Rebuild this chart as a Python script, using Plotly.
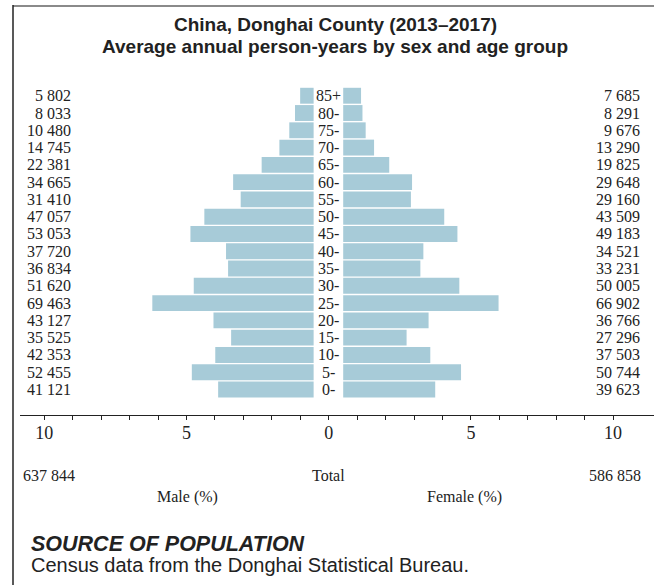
import plotly.graph_objects as go

# ---------------- data ----------------
age_groups = ["0-", "5-", "10-", "15-", "20-", "25-", "30-", "35-", "40-",
              "45-", "50-", "55-", "60-", "65-", "70-", "75-", "80-", "85+"]
male_counts = [41121, 52455, 42353, 35525, 43127, 69463, 51620, 36834, 37720,
               53053, 47057, 31410, 34665, 22381, 14745, 10480, 8033, 5802]
female_counts = [39623, 50744, 37503, 27296, 36766, 66902, 50005, 33231, 34521,
                 49183, 43509, 29160, 29648, 19825, 13290, 9676, 8291, 7685]
male_total = 637844
female_total = 586858
tick_values = [-10, -5, 0, 5, 10]
tick_labels = ["10", "5", "0", "5", "10"]

title_line1 = "China, Donghai County (2013\u20132017)"
title_line2 = "Average annual person-years by sex and age group"
source_head = "SOURCE OF POPULATION"
source_body = "Census data from the Donghai Statistical Bureau."

# ---------------- layout constants ----------------
W, H = 654, 585
ML, MR, MT, MB = 20, 0, 80, 170
PW, PH = W - ML - MR, H - MT - MB
X0PX, XUNIT = 328.7, 28.44          # pixel of 0 and pixels per 1 %
ROW0PX, ROWPITCH = 389.5, 17.28     # centre of first row, row pitch
GAP_L, GAP_R = 0.53, 0.51           # central gap for age labels

def px(x):
    return (x - ML) / PW

def py(y):
    return (H - MB - y) / PH

BAR = "#a7cbd8"
INK = "#222222"
SERIF = "Liberation Serif"
SANS = "Liberation Sans"

grand_total = sum(male_counts) + sum(female_counts)
male_pct = [c / grand_total * 100 for c in male_counts]
female_pct = [c / grand_total * 100 for c in female_counts]
ypos = list(range(len(age_groups)))

def fmt(n):
    return f"{n:,}".replace(",", " ")

fig = go.Figure()
fig.add_trace(go.Bar(
    y=ypos, x=[-p for p in male_pct], base=-GAP_L, orientation="h",
    marker=dict(color=BAR, line=dict(width=0)), hoverinfo="skip", showlegend=False))
fig.add_trace(go.Bar(
    y=ypos, x=female_pct, base=GAP_R, orientation="h",
    marker=dict(color=BAR, line=dict(width=0)), hoverinfo="skip", showlegend=False))

NUMSIZE = 16
annotations = []
for i, age in enumerate(age_groups):
    annotations.append(dict(x=0, y=i, xref="x", yref="y", text=age, showarrow=False,
                            xanchor="center", yanchor="middle",
                            font=dict(family=SERIF, size=NUMSIZE, color=INK)))
    annotations.append(dict(x=(72.5 - X0PX) / XUNIT, y=i, xref="x", yref="y",
                            text=fmt(male_counts[i]), showarrow=False,
                            xanchor="right", yanchor="middle",
                            font=dict(family=SERIF, size=NUMSIZE, color=INK)))
    annotations.append(dict(x=(641.5 - X0PX) / XUNIT, y=i, xref="x", yref="y",
                            text=fmt(female_counts[i]), showarrow=False,
                            xanchor="right", yanchor="middle",
                            font=dict(family=SERIF, size=NUMSIZE, color=INK)))

# totals and axis captions
annotations += [
    dict(x=px(21), y=py(475), xref="paper", yref="paper", text=fmt(male_total),
         showarrow=False, xanchor="left", yanchor="middle",
         font=dict(family=SERIF, size=NUMSIZE, color=INK)),
    dict(x=px(643), y=py(475), xref="paper", yref="paper", text=fmt(female_total),
         showarrow=False, xanchor="right", yanchor="middle",
         font=dict(family=SERIF, size=NUMSIZE, color=INK)),
    dict(x=0, y=py(475), xref="x", yref="paper", text="Total",
         showarrow=False, xanchor="center", yanchor="middle",
         font=dict(family=SERIF, size=NUMSIZE, color=INK)),
    dict(x=px(187), y=py(497), xref="paper", yref="paper", text="Male (%)",
         showarrow=False, xanchor="center", yanchor="middle",
         font=dict(family=SERIF, size=NUMSIZE, color=INK)),
    dict(x=px(464), y=py(497), xref="paper", yref="paper", text="Female (%)",
         showarrow=False, xanchor="center", yanchor="middle",
         font=dict(family=SERIF, size=NUMSIZE, color=INK)),
]

# titles
annotations += [
    dict(x=px(335), y=py(24), xref="paper", yref="paper", text=f"<b>{title_line1}</b>",
         showarrow=False, xanchor="center", yanchor="middle",
         font=dict(family=SANS, size=19, color=INK)),
    dict(x=px(335), y=py(47), xref="paper", yref="paper", text=f"<b>{title_line2}</b>",
         showarrow=False, xanchor="center", yanchor="middle",
         font=dict(family=SANS, size=19, color=INK)),
    dict(x=px(29), y=py(544), xref="paper", yref="paper", text=f"<b><i>{source_head}</i></b>",
         showarrow=False, xanchor="left", yanchor="middle",
         font=dict(family=SANS, size=21.5, color=INK)),
    dict(x=px(29), y=py(565), xref="paper", yref="paper", text=source_body,
         showarrow=False, xanchor="left", yanchor="middle",
         font=dict(family=SANS, size=20, color=INK)),
]

shapes = [
    dict(type="line", xref="paper", yref="paper", x0=px(13), x1=px(W + 5),
         y0=py(6), y1=py(6), line=dict(color="#8a8a8a", width=2)),
    dict(type="line", xref="paper", yref="paper", x0=px(13), x1=px(13),
         y0=py(5), y1=py(H + 5), line=dict(color=INK, width=1.5)),
]

all_ticks = list(range(-10, 11))
all_text = [tick_labels[tick_values.index(t)] if t in tick_values else "" for t in all_ticks]

fig.update_layout(
    width=W, height=H,
    margin=dict(l=ML, r=MR, t=MT, b=MB, pad=0),
    paper_bgcolor="white", plot_bgcolor="white",
    barmode="overlay", bargap=0.08,
    xaxis=dict(range=[(ML - X0PX) / XUNIT, (W - MR - X0PX) / XUNIT],
               showgrid=False, zeroline=False, showline=True, linecolor=INK, linewidth=1.3,
               ticks="outside", ticklen=4, tickwidth=1, tickcolor=INK,
               tickmode="array", tickvals=all_ticks, ticktext=all_text,
               ticklabelstandoff=-3,
               tickfont=dict(family=SERIF, size=18, color=INK), fixedrange=True),
    yaxis=dict(range=[(ROW0PX - (H - MB)) / ROWPITCH, (ROW0PX - MT) / ROWPITCH],
               visible=False, fixedrange=True),
    annotations=annotations, shapes=shapes,
)

fig.write_html("out.html", config={"displayModeBar": False},
               post_script="document.body.style.margin='0';document.body.style.overflow='hidden';")
